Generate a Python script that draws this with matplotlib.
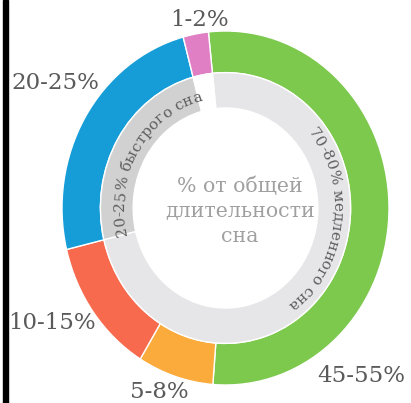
import numpy as np
import matplotlib
matplotlib.use("Agg")
import matplotlib.pyplot as plt
from matplotlib.patches import Rectangle
from matplotlib.font_manager import FontProperties, findfont, get_font

# ---- data (share of total sleep time, %) ----
stage_labels = ["45-55%", "5-8%", "10-15%", "20-25%", "1-2%"]
stage_values = [52.9, 7.5, 12.5, 24.6, 2.5]
stage_colors = ["#7cc94e", "#fbab3c", "#f86a4e", "#169dd8", "#e07fc3"]

group_values = [72.9, 24.6, 2.5]                     # slow sleep, REM, gap
group_colors = ["#e6e6e8", "#d1d1d1", "#ffffff"]
group_texts = ["70-80% медленного сна", "20-25% быстрого сна"]
center_text = "% от общей\nдлительности\nсна"

W, H, DPI = 411, 403, 100
fig = plt.figure(figsize=(W / DPI, H / DPI), dpi=DPI)
fig.patch.set_facecolor("white")

cx, cy, rx, ry = 225.5, 208.0, 163.5, 177.0
ax = fig.add_axes([(cx - rx) / W, (H - (cy + ry)) / H, 2 * rx / W, 2 * ry / H])

start = 96
ax.pie(stage_values, radius=1.0, startangle=start, counterclock=False,
       colors=stage_colors,
       wedgeprops=dict(width=0.235, edgecolor="white", linewidth=1.0))
ax.pie(group_values, radius=0.765, startangle=start, counterclock=False,
       colors=group_colors,
       wedgeprops=dict(width=0.2, edgecolor="white", linewidth=1.0))
ax.set_aspect("auto")
ax.set_xlim(-1, 1)
ax.set_ylim(-1, 1)
ax.axis("off")

SERIF = "DejaVu Serif"


def advances(text, size):
    fp = FontProperties(family=SERIF, size=size)
    font = get_font(findfont(fp))
    font.set_size(size, 72)
    out = []
    for ch in text:
        g = font.load_char(ord(ch))
        out.append(g.linearHoriAdvance / 65536.0 * DPI / 72.0)
    return out


def arc_text(text, mid_deg, r_base, size, color):
    adv = advances(text, size)

    def speed(t):
        return r_base * np.hypot(rx * np.sin(t), ry * np.cos(t))

    mid = np.radians(mid_deg)
    ts = mid + sum(adv) / speed(mid) / 2
    for _ in range(4):
        t = ts
        for a in adv:
            t -= a / speed(t)
        ts += mid - (ts + t) / 2
    t = ts
    for ch, a in zip(text, adv):
        tc = t - (a / 2) / speed(t)
        rot = np.degrees(np.arctan2(-ry * np.cos(tc), rx * np.sin(tc)))
        ax.text(r_base * np.cos(tc), r_base * np.sin(tc), ch, rotation=rot,
                rotation_mode="anchor", ha="center", va="baseline",
                fontsize=size, family=SERIF, color=color)
        t -= a / speed(t)


# curved group texts (mid angles from the inner ring segments)
arc_text(group_texts[0], -7.4, 0.66, 11, "#5e5e5e")
arc_text(group_texts[1], 148.5, 0.62, 11, "#5e5e5e")

# centre text
fig.text(240 / W, 1 - 211 / H, center_text, ha="center", va="center",
         fontsize=14.8, family=SERIF, color="#a0a0a0", linespacing=1.4)

# outer labels
label_pos = [(361, 376), (159, 392), (52, 323), (55, 83), (199, 20)]
for lab, (px, py) in zip(stage_labels, label_pos):
    fig.text(px / W, 1 - py / H, lab, ha="center", va="center",
             fontsize=16.5, family=SERIF, color="#5a5a5a")

# black frame edge on the left
fig.add_artist(Rectangle((3 / W, 0), 4.5 / W, 1, transform=fig.transFigure,
                         color="black", zorder=10))

fig.savefig("out.png", dpi=DPI, facecolor="white")
